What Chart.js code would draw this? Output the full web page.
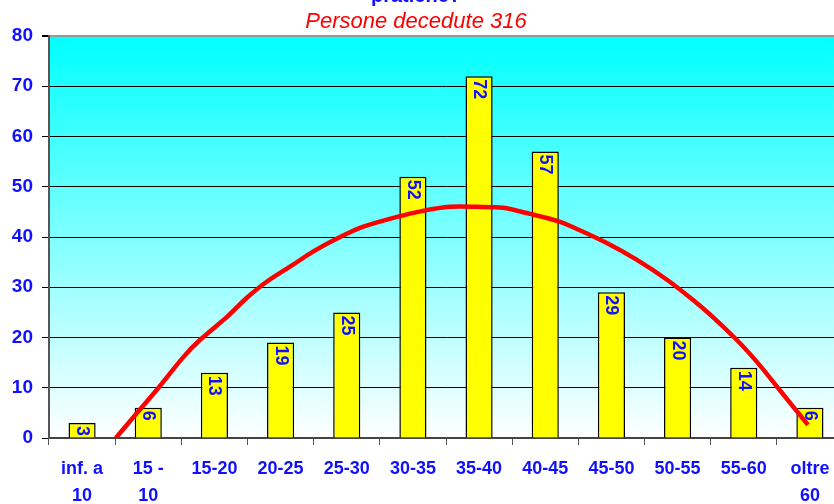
<!DOCTYPE html>
<html>
<head>
<meta charset="utf-8">
<script src="https://cdn.jsdelivr.net/npm/chart.js@4/dist/chart.umd.min.js"></script>
<style>
    html, body { margin: 0; padding: 0; background: #fff; overflow: hidden; }
    #wrap { width: 843px; height: 504px; }
</style>
</head>
<body>
<div id="wrap"><canvas id="chart" width="843" height="504"></canvas></div>
<script>
// age classes (x axis)
const categories = [['inf. a', '10'], ['15 -', '10'], '15-20', '20-25', '25-30', '30-35',
    '35-40', '40-45', '45-50', '50-55', '55-60', ['oltre', '60']];
// deaths per class
const deaths = [3, 6, 13, 19, 25, 52, 72, 57, 29, 20, 14, 6];
// red trend curve (position in category units, value)
const trendPos = [0.51, 0.83, 1.13, 1.53, 1.78, 2.19, 2.49, 2.79, 3.19, 3.49, 3.87, 4.24, 4.76,
    5.15, 5.56, 5.97, 6.36, 6.77, 7.18, 7.48, 7.93, 8.38, 8.84, 9.23, 9.53, 9.94, 10.24, 10.54, 10.97];
const trendVal = [0, 5.0, 9.6, 16.1, 19.5, 24.1, 27.9, 31.1, 34.5, 37.1, 39.8, 42.0, 44.0,
    45.2, 46.0, 46.0, 45.8, 44.6, 43.2, 41.6, 38.8, 35.5, 31.5, 27.5, 24.1, 18.9, 14.5, 9.6, 2.6];
const yMax = 80;
const yStep = 10;

const titleTop = 'pratiche?';
const titleSub = 'Persone decedute 316';

const BLUE = '#1010ff';
const FONT = '"Liberation Sans", Arial, sans-serif';

const plotBackground = {
    id: 'plotBackground',
    beforeDraw(chart) {
        const { ctx, chartArea: a } = chart;
        const g = ctx.createLinearGradient(0, a.top, 0, a.bottom);
        g.addColorStop(0, '#00ffff');
        g.addColorStop(1, '#ffffff');
        ctx.save();
        ctx.fillStyle = g;
        ctx.fillRect(a.left, a.top, a.right - a.left, a.bottom - a.top);
        ctx.restore();
    }
};

// values written vertically inside the top of each bar
const barLabels = {
    id: 'barLabels',
    afterDatasetDraw(chart, args) {
        if (args.index !== 0) return;
        const { ctx } = chart;
        ctx.save();
        ctx.fillStyle = BLUE;
        ctx.font = 'bold 18px ' + FONT;
        ctx.textAlign = 'left';
        ctx.textBaseline = 'middle';
        args.meta.data.forEach((bar, i) => {
            ctx.save();
            ctx.translate(bar.x, bar.y + 3);
            ctx.rotate(Math.PI / 2);
            ctx.fillText(String(deaths[i]), 0, 0);
            ctx.restore();
        });
        ctx.restore();
    }
};

const titles = {
    id: 'titles',
    afterDraw(chart) {
        const { ctx } = chart;
        ctx.save();
        ctx.textAlign = 'center';
        ctx.textBaseline = 'alphabetic';
        ctx.fillStyle = BLUE;
        ctx.font = 'bold 20px ' + FONT;
        ctx.fillText(titleTop, 416, 2);
        ctx.fillStyle = '#ff0000';
        ctx.font = 'italic 22px ' + FONT;
        ctx.fillText(titleSub, 416, 28);
        ctx.restore();
    }
};

new Chart(document.getElementById('chart'), {
    data: {
        labels: categories,
        datasets: [
            {
                type: 'bar',
                data: deaths,
                backgroundColor: '#ffff00',
                borderColor: '#000',
                borderWidth: 1.5,
                grouped: false,
                categoryPercentage: 1,
                barPercentage: 0.41,
                order: 1
            },
            {
                type: 'line',
                xAxisID: 'xl',
                data: trendPos.map((p, i) => ({ x: p, y: trendVal[i] })),
                borderColor: '#ff0000',
                borderWidth: 4.5,
                pointRadius: 0,
                tension: 0.3,
                order: 0
            }
        ]
    },
    options: {
        responsive: false,
        animation: false,
        layout: { padding: { top: 36, right: 0, left: 0, bottom: 0 } },
        plugins: {
            legend: { display: false },
            tooltip: { enabled: false }
        },
        scales: {
            x: {
                offset: true,
                grid: {
                    offset: true,
                    drawOnChartArea: false,
                    drawTicks: true,
                    tickLength: 7,
                    tickColor: '#555'
                },
                border: { color: '#444', width: 2 },
                ticks: {
                    color: BLUE,
                    padding: 11,
                    maxRotation: 0,
                    autoSkip: false,
                    font: { family: FONT, size: 18, weight: 'bold', lineHeight: 1.5 }
                },
                afterFit: (s) => { s.height = 66; }
            },
            xl: {
                type: 'linear',
                display: false,
                min: -0.5,
                max: categories.length - 0.5
            },
            y: {
                min: 0,
                max: yMax,
                grid: {
                    color: (c) => c.tick.value === yMax ? '#999' : '#000',
                    lineWidth: (c) => c.tick.value === yMax ? 2 : 1,
                    tickLength: 7,
                    tickColor: '#000'
                },
                border: { color: '#555', width: 2 },
                ticks: {
                    stepSize: yStep,
                    color: BLUE,
                    padding: 9,
                    font: { family: FONT, size: 19, weight: 'bold' }
                },
                afterFit: (s) => { s.width = 49; }
            }
        }
    },
    plugins: [plotBackground, barLabels, titles]
});
</script>
</body>
</html>
